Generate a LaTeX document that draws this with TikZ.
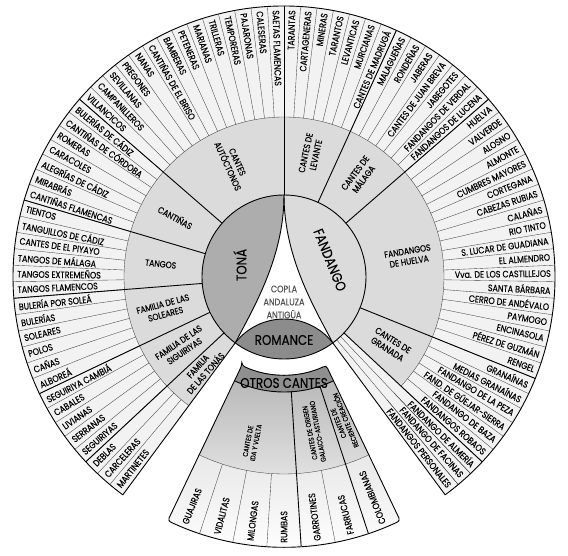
\documentclass[tikz,border=0pt]{standalone}
\usepackage{fontspec}
\usepackage{graphicx}
\setmainfont{Poppins}[FakeStretch=0.85, FakeBold=0.3]
\usetikzlibrary{calc}

\definecolor{tonagris}{gray}{0.68}
\definecolor{fandgris}{gray}{0.86}
\definecolor{romagris}{gray}{0.55}
\definecolor{anillogris}{gray}{0.86}
\definecolor{radiogris}{gray}{0.95}
\definecolor{otrosgris}{gray}{0.56}

% texto largo: se estrecha para caber en su radio
\newcommand{\ajusta}[1]{\sbox0{#1}\ifdim\wd0>100pt\resizebox{100pt}{\ht0}{#1}\else#1\fi}

\begin{document}
\begin{tikzpicture}[x=1pt, y=1pt,
	borde/.style={line width=0.9pt},
	radio/.style={line width=0.35pt, draw=black!75},
	cante/.style={inner sep=0pt, font=\fontsize{9.3}{9}\selectfont},
	familia/.style={align=center, inner sep=0pt, font=\fontsize{9}{10.5}\selectfont},
	subfam/.style={align=center, inner sep=0pt, font=\fontsize{7}{8}\selectfont},
	nucleo/.style={inner sep=0pt, font=\fontsize{14}{14}\selectfont}]

		\useasboundingbox (-284,-279) rectangle (284,277);

		% rueda
		\fill[radiogris] (0,0) -- (-53.5:271) arc[start angle=-53.5, end angle=233.5, radius=271] -- cycle;
		\fill[anillogris] (0,0) -- (-43:160) arc[start angle=-43, end angle=233.5, radius=160] -- cycle;
		\fill[white] (0,0) circle[radius=82];
		\fill[tonagris] (0,82) arc[start angle=90, end angle=233.5, radius=82] .. controls (-30,-30) and (0,20) .. (0,82);
		\fill[fandgris] (0,82) arc[start angle=90, end angle=-53.5, radius=82] .. controls (30,-30) and (0,20) .. (0,82);
		\fill[romagris] (233.5:82) arc[start angle=142.23, end angle=37.77, radius=61.7] arc[start angle=-53.5, end angle=-126.5, radius=82] -- cycle;

		\draw[borde] (0,0) circle[radius=82];
		\draw[borde] (0,82) .. controls (0,20) and (-30,-30) .. (233.5:82);
		\draw[borde] (0,82) .. controls (0,20) and (30,-30) .. (-53.5:82);
		\draw[borde] (233.5:82) arc[start angle=142.23, end angle=37.77, radius=61.7];
		\draw[radio] (-43:160) arc[start angle=-43, end angle=233.5, radius=160];
		\foreach \k in {1,...,40} {
			\draw[radio] ({90+3.5*\k}:160) -- ({90+3.5*\k}:271);
			\draw[radio] ({90-3.5*\k}:160) -- ({90-3.5*\k}:271);
		}
		\foreach \a in {-46.5,-50} \draw[radio] (\a:82) -- (\a:271);
		\foreach \a in {90,139,163.5,184.5,205.5,223,233.5,65.5,41,-22,-43,-53.5} \draw[borde] (\a:82) -- (\a:271);
		\draw[borde] (-53.5:271) arc[start angle=-53.5, end angle=233.5, radius=271];

		% otros cantes
		\shade[top color=gray!18, bottom color=white] (244.5:197) -- (244.5:270) arc[start angle=244.5, end angle=295.5, radius=270] -- (295.5:197) arc[start angle=295.5, end angle=244.5, radius=197] -- cycle;
		\shade[top color=gray!55, bottom color=gray!22] (244.5:115) -- (244.5:197) arc[start angle=244.5, end angle=295.5, radius=197] -- (295.5:115) arc[start angle=295.5, end angle=244.5, radius=115] -- cycle;
		\fill[otrosgris] (244.5:98) -- (244.5:115) arc[start angle=244.5, end angle=295.5, radius=115] -- (295.5:98) arc[start angle=295.5, end angle=244.5, radius=98] -- cycle;
		\draw[radio] (244.5:197) arc[start angle=244.5, end angle=295.5, radius=197];
		\foreach \a in {251.786,259.071,266.357,280.929} \draw[radio] (\a:197) -- (\a:270);
		\foreach \a in {273.643,288.214} \draw[borde] (\a:115) -- (\a:270);
		\draw[borde] (244.5:115) arc[start angle=244.5, end angle=295.5, radius=115];
		\draw[borde, rounded corners=3pt] (244.5:98) -- (244.5:270) arc[start angle=244.5, end angle=295.5, radius=270] -- (295.5:98) arc[start angle=295.5, end angle=244.5, radius=98] -- cycle;

		% textos
		\node[nucleo, rotate=90] (tona) at (-44,12) {TONÁ};
		\node[nucleo, rotate=-68] (fandango) at (46,17) {FANDANGO};
		\node[align=center, text=gray!65!black, font=\fontsize{9.5}{13}\selectfont] (copla) at (0,-25) {COPLA\\ANDALUZA\\ANTIGÜA};
		\node[nucleo] (romance) at (0,-63) {ROMANCE};
		\node[nucleo] (otros) at (0,-106) {OTROS CANTES};

		\foreach \a/\t [count=\i] in {114.5/CANTES\\AUTÓCTONOS, 151.25/CANTIÑAS, 174/TANGOS, 195/FAMILIA DE LAS\\SOLEARES, 214.25/FAMILIA DE LAS\\SIGUIRIYAS, 228.5/FAMILIA\\DE LAS TONÁS}
			\node[familia, rotate=\a-180] (famizq-\i) at (\a:124) {\t};
		\foreach \a/\t [count=\i] in {77.75/CANTES DE\\LEVANTE, 53.25/CANTES DE\\MÁLAGA, 9.5/FANDANGOS\\DE HUELVA, -32.5/CANTES DE\\GRANADA}
			\node[familia, rotate=\a] (famder-\i) at (\a:126) {\t};

		\foreach \t [count=\i] in {SAETAS FLAMENCAS, CALESERAS, PAJARONAS, TEMPORERAS, TRILLERAS, MARIANAS, PETENERAS, BAMBERAS, CANTIÑAS DE EL BRISO, NANAS, PREGONES, SEVILLANAS, CAMPANILLEROS, VILLANCICOS, BULERÍAS DE CÁDIZ, CANTIÑAS DE CÓRDOBA, ROMERAS, CARACOLES, ALEGRÍAS DE CÁDIZ, MIRABRÁS, CANTIÑAS FLAMENCAS, TIENTOS, TANGUILLOS DE CÁDIZ, CANTES DE EL PIYAYO, TANGOS DE MÁLAGA, TANGOS EXTREMEÑOS, TANGOS FLAMENCOS, BULERÍA POR SOLEÁ, BULERÍAS, SOLEARES, POLOS, CAÑAS, ALBOREÁ, SEGUIRIYA CAMBIÁ, CABALES, LIVIANAS, SERRANAS, SEGUIRIYAS, DEBLAS, CARCELERAS, MARTINETES}
			\node[cante, anchor=west, rotate={3.5*(\i-0.5)-90}] (izq-\i) at ({90+3.5*(\i-0.5)}:267) {\ajusta{\t}};
		\foreach \t [count=\i] in {TARANTAS, CARTAGENERAS, MINERAS, TARANTOS, LEVANTICAS, MURCIANAS, CANTES DE MADRUGÁ, MALAGUEÑAS, RONDEÑAS, JABERAS, CANTES DE JUAN BREVA, JABEGOTES, FANDANGOS DE VERDAL, FANDANGOS DE LUCENA, HUELVA, VALVERDE, ALOSNO, ALMONTE, CUMBRES MAYORES, CORTEGANA, CABEZAS RUBIAS, CALAÑAS, RIO TINTO, S. LUCAR DE GUADIANA, EL ALMENDRO, Vva. DE LOS CASTILLEJOS, SANTA BÁRBARA, CERRO DE ANDÉVALO, PAYMOGO, ENCINASOLA, PÉREZ DE GUZMÁN, RENGEL, GRANAÍNAS, MEDIAS GRANAÍNAS, FANDANGO DE LA PEZA, FAND. DE GÜEJAR-SIERRA, FANDANGO DE BAZA, FANDANGOS ROBAOS, FANDANGO DE ALMERÍA, FANDANGO DE FACINAS, FANDANGOS PERSONALES}
			\node[cante, anchor=east, rotate={90-3.5*(\i-0.5)}] (der-\i) at ({90-3.5*(\i-0.5)}:267) {\ajusta{\t}};

		\node[subfam, rotate=79] (idavuelta) at (259:168) {CANTES DE\\IDA Y VUELTA};
		\node[subfam, rotate=100.9] (galaico) at (280.9:158) {CANTES DE ORIGEN\\GALAICO-ASTURIANO};
		\node[subfam, rotate=111.9] (reciente) at (291.9:156) {CANTES DE\\RECIENTE CREACIÓN};
		\foreach \t [count=\i] in {GUAJIRAS, VIDALITAS, MILONGAS, RUMBAS, GARROTINES, FARRUCAS, COLOMBIANAS}
			\node[cante, anchor=west, rotate={64.5+7.2857*(\i-0.5)}] (otro-\i) at ({244.5+7.2857*(\i-0.5)}:266) {\t};
    \end{tikzpicture}
\end{document}
